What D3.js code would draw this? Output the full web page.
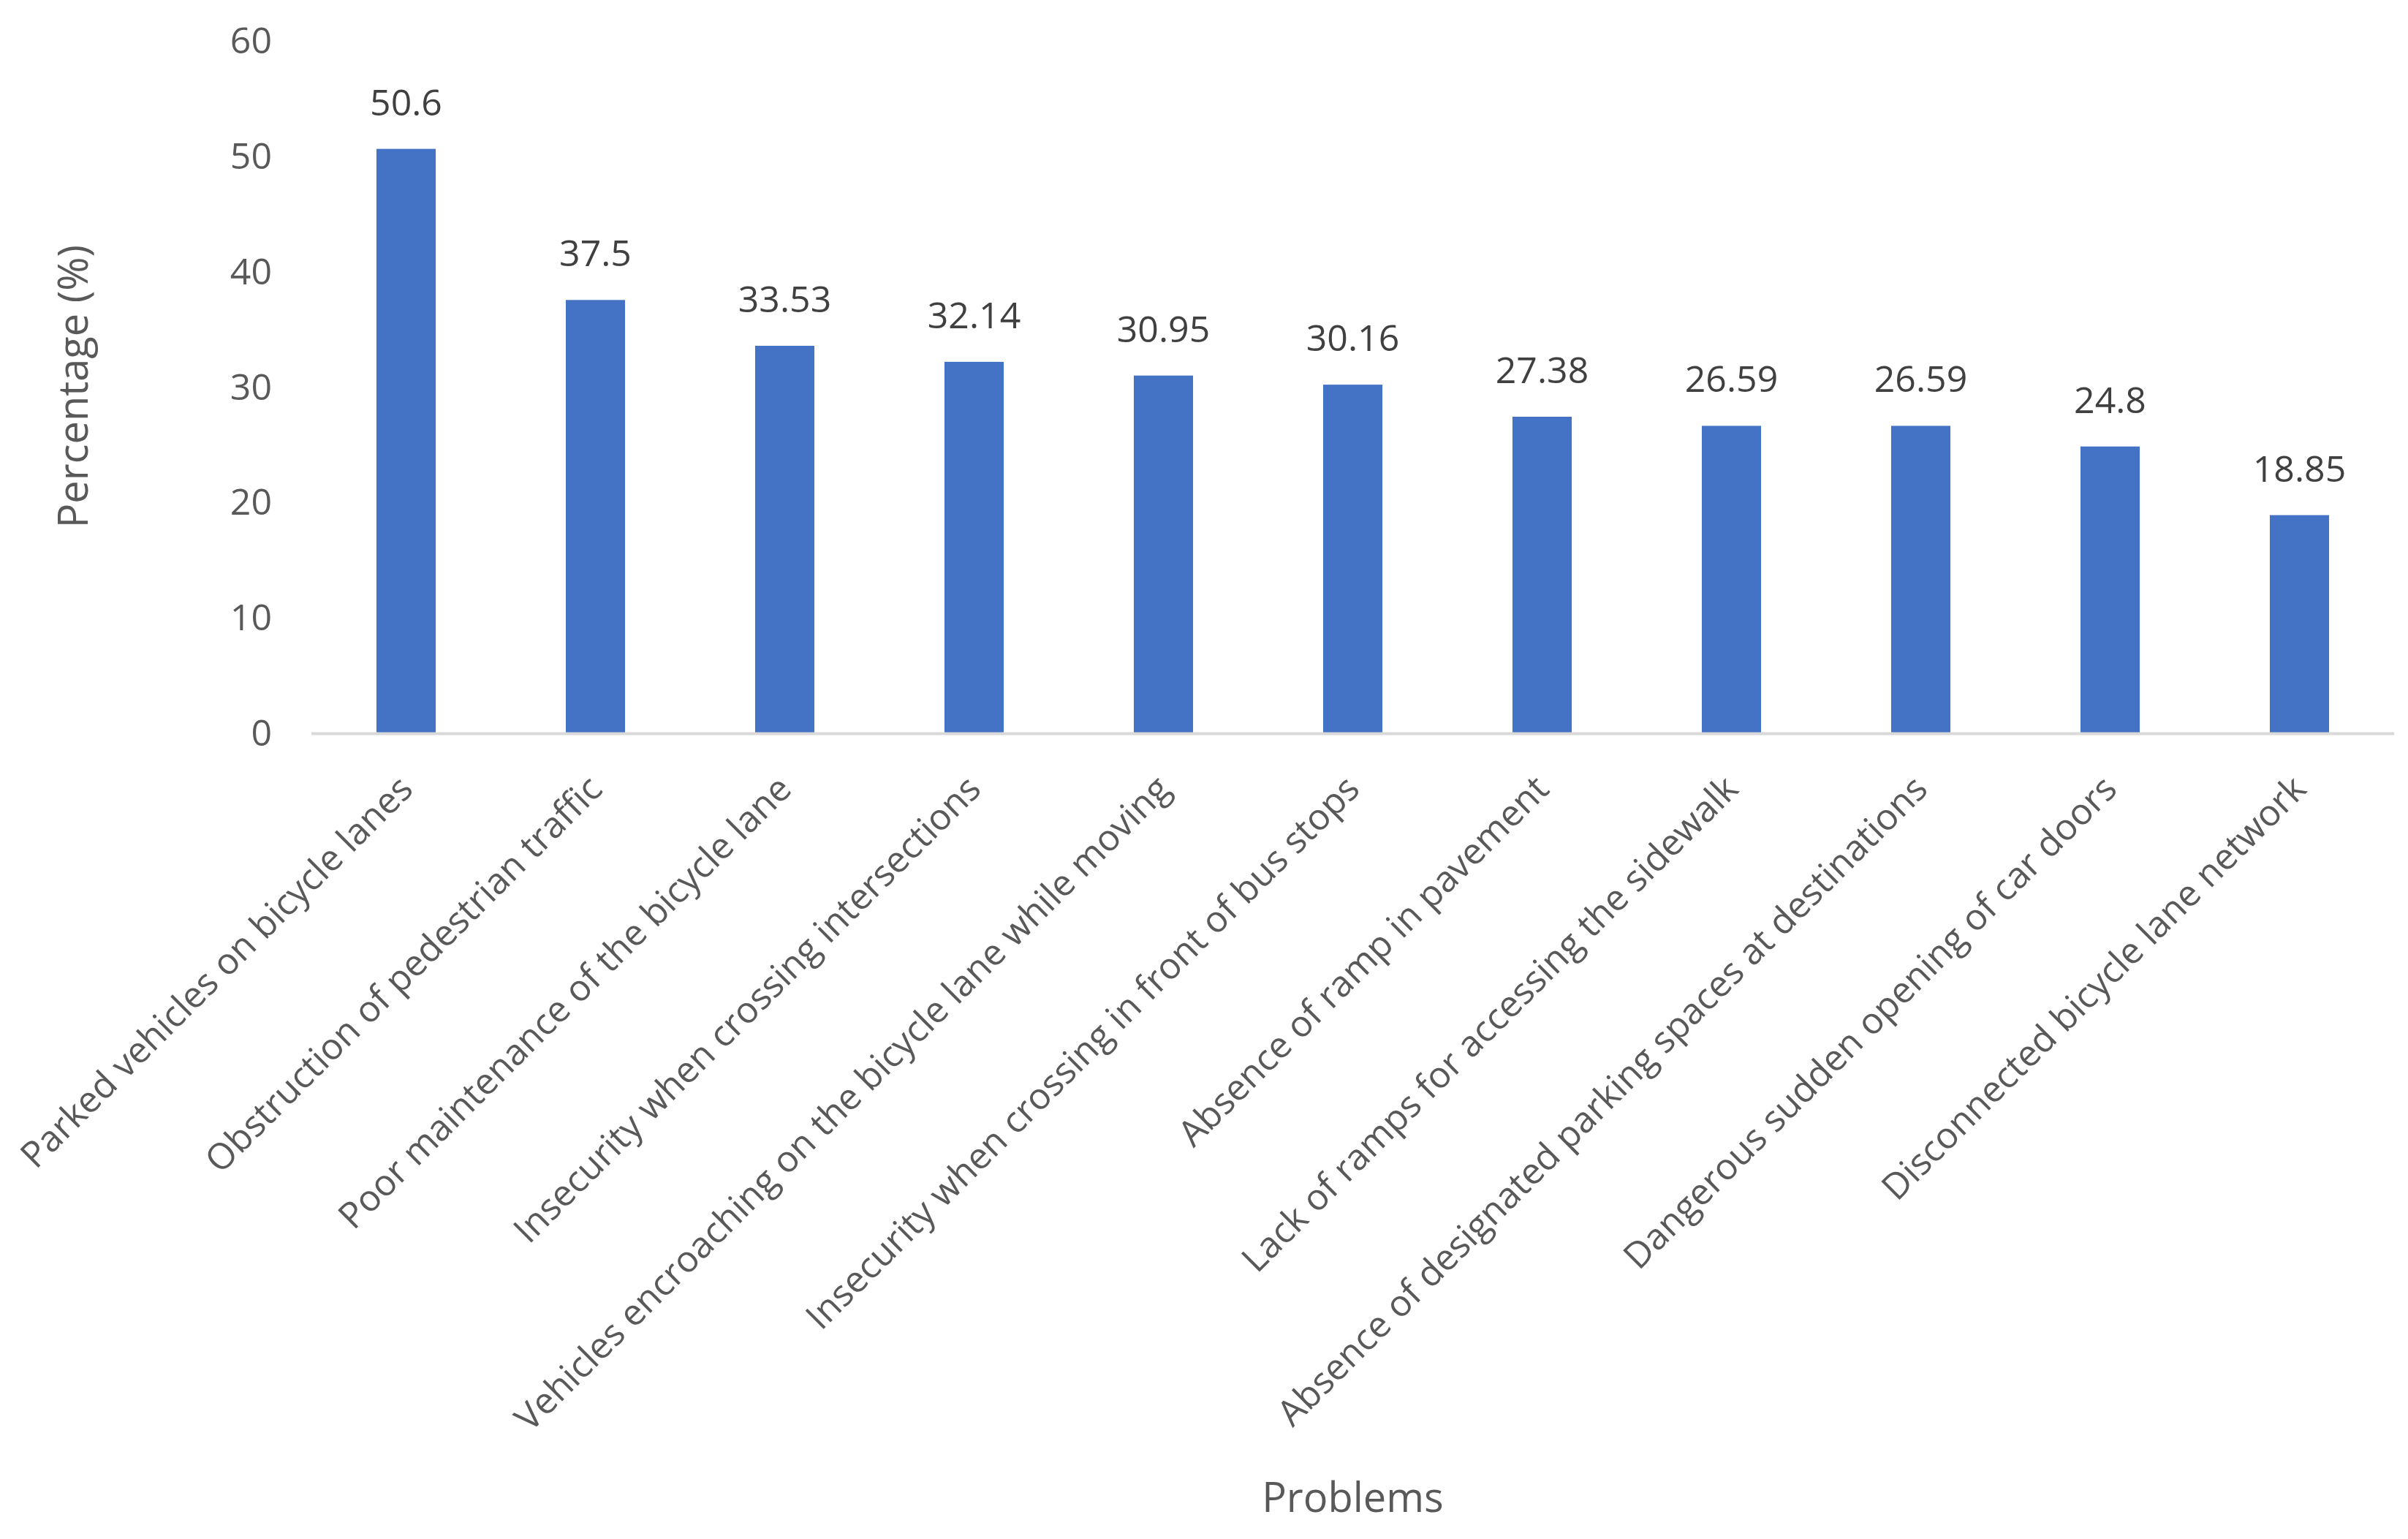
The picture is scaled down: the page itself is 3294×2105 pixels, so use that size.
<!DOCTYPE html>
<html>
<head>
<meta charset="utf-8">
<script src="https://cdn.jsdelivr.net/npm/d3@7"></script>
<style>
  html, body { margin: 0; padding: 0; background: #ffffff; }
  svg { display: block; }
  text { font-family: "Open Sans", "Noto Sans", sans-serif; }
</style>
</head>
<body>
<svg id="chart" width="3294" height="2105"></svg>
<script>
const categories = [
  "Parked vehicles on bicycle lanes",
  "Obstruction of pedestrian traffic",
  "Poor maintenance of the bicycle lane",
  "Insecurity when crossing intersections",
  "Vehicles encroaching on the bicycle lane while moving",
  "Insecurity when crossing in front of bus stops",
  "Absence of ramp in pavement",
  "Lack of ramps for accessing the sidewalk",
  "Absence of designated parking spaces at destinations",
  "Dangerous sudden opening of car doors",
  "Disconnected bicycle lane network"
];
const values = [50.6, 37.5, 33.53, 32.14, 30.95, 30.16, 27.38, 26.59, 26.59, 24.8, 18.85];
const valueLabels = ["50.6", "37.5", "33.53", "32.14", "30.95", "30.16", "27.38", "26.59", "26.59", "24.8", "18.85"];
const yTicks = [0, 10, 20, 30, 40, 50, 60];
const yTitle = "Percentage (%)";
const xTitle = "Problems";

const svg = d3.select("#chart");
const W = 3294, H = 2105;
svg.append("rect").attr("width", W).attr("height", H).attr("fill", "#ffffff");

const plotLeft = 426, plotRight = 3275;
const y0 = 1002, yTop = 55.3;

const x = d3.scaleBand()
  .domain(categories)
  .range([plotLeft, plotRight])
  .paddingInner(0.687)
  .paddingOuter(0.687 / 2);

const y = d3.scaleLinear().domain([0, 60]).range([y0, yTop]);

// Y axis tick labels (no line, no ticks)
const yAxis = d3.axisLeft(y).tickValues(yTicks).tickSize(0).tickPadding(0).tickFormat(d3.format("d"));
const gy = svg.append("g").attr("transform", "translate(372,0)").call(yAxis);
gy.select(".domain").remove();
gy.selectAll("text")
  .attr("font-family", "'Open Sans', sans-serif")
  .attr("font-size", 50)
  .attr("fill", "#595959")
  .attr("x", 0)
  .attr("dy", "0.35em")
  .attr("text-anchor", "end");

// Bars
svg.append("g").selectAll("rect")
  .data(values)
  .join("rect")
  .attr("x", (d, i) => x(categories[i]))
  .attr("width", x.bandwidth())
  .attr("y", d => y(d))
  .attr("height", d => y(0) - y(d))
  .attr("fill", "#4472C4");

// X axis baseline
svg.append("line")
  .attr("x1", plotLeft).attr("x2", plotRight)
  .attr("y1", y0 + 1.5).attr("y2", y0 + 1.5)
  .attr("stroke", "#d9d9d9").attr("stroke-width", 4);

// Data labels
svg.append("g").selectAll("text")
  .data(values)
  .join("text")
  .attr("x", (d, i) => x(categories[i]) + x.bandwidth() / 2)
  .attr("y", d => y(d) - 46)
  .attr("text-anchor", "middle")
  .attr("font-size", 50)
  .attr("fill", "#404040")
  .text((d, i) => valueLabels[i]);

// Category labels rotated -45
svg.append("g").selectAll("text")
  .data(categories)
  .join("text")
  .attr("transform", d => `translate(${x(d) + x.bandwidth() / 2 + 12},${y0 + 80}) rotate(-45)`)
  .attr("text-anchor", "end")
  .attr("font-size", 49.5)
  .attr("fill", "#595959")
  .text(d => d);

// Axis titles
svg.append("text")
  .attr("transform", `translate(120,${(y0 + yTop) / 2}) rotate(-90)`)
  .attr("text-anchor", "middle")
  .attr("font-size", 56)
  .attr("fill", "#595959")
  .text(yTitle);

svg.append("text")
  .attr("x", (plotLeft + plotRight) / 2)
  .attr("y", 2068)
  .attr("text-anchor", "middle")
  .attr("font-size", 56)
  .attr("fill", "#595959")
  .text(xTitle);
</script>
</body>
</html>
